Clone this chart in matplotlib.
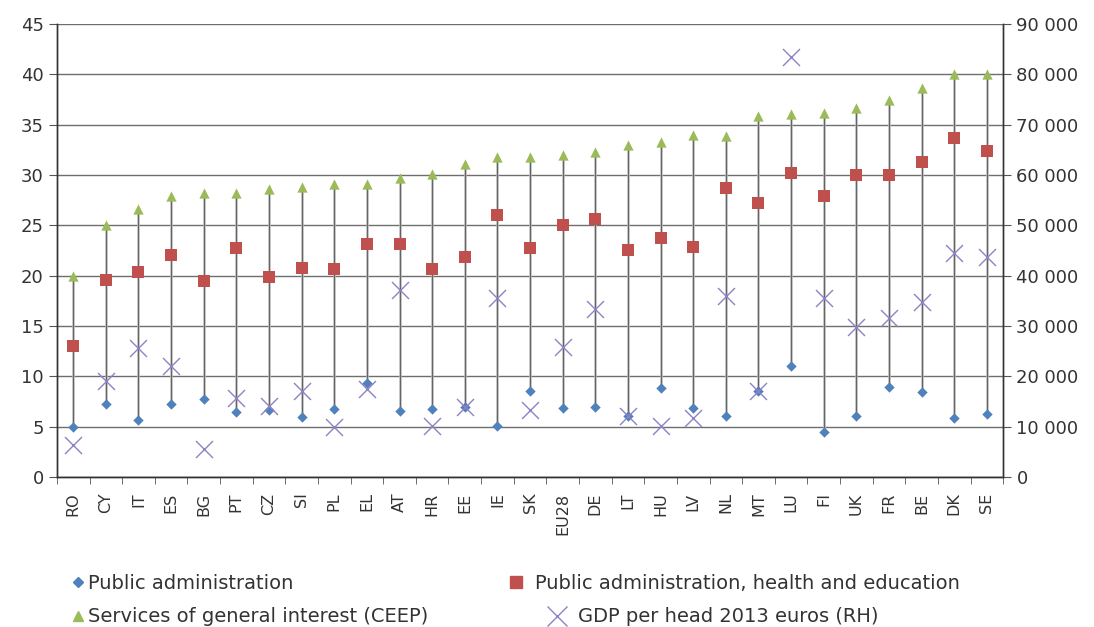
"""Employment shares in public services vs GDP per head, by country."""
import matplotlib

matplotlib.use("Agg")
import matplotlib.pyplot as plt  # noqa: E402
from matplotlib.lines import Line2D  # noqa: E402
from matplotlib.ticker import FuncFormatter, MultipleLocator  # noqa: E402

plt.rcParams["font.family"] = ["DejaVu Sans"]

countries = ["RO", "CY", "IT", "ES", "BG", "PT", "CZ", "SI", "PL", "EL", "AT", "HR",
             "EE", "IE", "SK", "EU28", "DE", "LT", "HU", "LV", "NL", "MT", "LU", "FI",
             "UK", "FR", "BE", "DK", "SE"]
public_admin = [5.0, 7.3, 5.7, 7.3, 7.8, 6.5, 6.7, 6.0, 6.8, 9.3, 6.6, 6.8,
                7.0, 5.1, 8.6, 6.85, 7.0, 6.1, 8.8, 6.85, 6.1, 8.6, 11.0, 4.5,
                6.1, 8.9, 8.5, 5.85, 6.3]
pa_health_edu = [13.0, 19.6, 20.4, 22.1, 19.5, 22.7, 19.9, 20.8, 20.7, 23.1, 23.1, 20.7,
                 21.9, 26.0, 22.7, 25.0, 25.6, 22.5, 23.7, 22.85, 28.7, 27.2, 30.2, 27.9,
                 30.0, 30.0, 31.25, 33.7, 32.4]
ceep = [20.0, 25.0, 26.6, 27.9, 28.2, 28.2, 28.6, 28.8, 29.1, 29.1, 29.7, 30.1,
        31.1, 31.8, 31.8, 32.0, 32.3, 33.0, 33.3, 34.0, 33.9, 35.85, 36.0, 36.1,
        36.6, 37.4, 38.6, 40.0, 40.0]
gdp_per_head = [6400, 19100, 25600, 22150, 5500, 15700, 14200, 17200, 10000, 17500, 37100, 10100,
                13900, 35600, 13400, 25900, 33300, 12200, 10100, 11700, 36000, 17100, 83400, 35600,
                29900, 31500, 34700, 44450, 43800]

BLUE = "#4F81BD"
RED = "#C0504D"
GREEN = "#9BBB59"
PURPLE = "#8E82C4"
TXT = "#333333"


def main() -> None:
    fig = plt.figure(figsize=(10.94, 6.27), dpi=100)
    ax = fig.add_axes([0.052, 0.239, 0.865, 0.723])
    ax2 = ax.twinx()

    x = list(range(len(countries)))
    lows = [min(a, b, c) for a, b, c in zip(public_admin, pa_health_edu, ceep)]
    highs = [max(a, b, c) for a, b, c in zip(public_admin, pa_health_edu, ceep)]
    ax.vlines(x, lows, highs, color="#b4b4b4", lw=1.8, zorder=2)
    ax.vlines(x, lows, highs, color="#555555", lw=0.6, zorder=2)

    ax.scatter(x, public_admin, marker="D", s=28, color=BLUE, zorder=4, linewidths=0)
    ax.scatter(x, pa_health_edu, marker="s", s=75, color=RED, zorder=4, linewidths=0)
    ax.scatter(x, ceep, marker="^", s=55, color=GREEN, zorder=4, linewidths=0)
    ax2.scatter(x, gdp_per_head, marker="x", s=150, color=PURPLE, zorder=5, linewidths=1.0)

    ax.set_xlim(-0.5, len(countries) - 0.5)
    ax.set_ylim(0, 45)
    ax2.set_ylim(0, 90000)
    ax.yaxis.set_major_locator(MultipleLocator(5))
    ax2.yaxis.set_major_locator(MultipleLocator(10000))
    ax2.yaxis.set_major_formatter(FuncFormatter(lambda v, _: f"{int(v):,}".replace(",", " ")))

    ax.grid(axis="y", color="#6e6e6e", lw=1.0)
    ax.set_axisbelow(True)

    ax.set_xticks(x)
    ax.set_xticklabels(countries, rotation=90, fontsize=11.5, color=TXT)
    ax.set_xticks([i - 0.5 for i in range(len(countries) + 1)], minor=True)
    ax.tick_params(axis="x", which="major", length=0, pad=11)
    ax.tick_params(axis="x", which="minor", length=5, color="#555555", direction="out")
    ax.tick_params(axis="y", labelsize=13, labelcolor=TXT, length=6, color="#555555")
    ax2.tick_params(axis="y", labelsize=13, labelcolor=TXT, length=6, color="#555555")

    for a in (ax, ax2):
        a.spines["top"].set_visible(False)
        for side in ("left", "right", "bottom"):
            a.spines[side].set_color("#333333")
            a.spines[side].set_linewidth(1.0)

    # one legend per entry so each sits where the original puts it
    entries = [
        (Line2D([], [], ls="", marker="D", ms=5, color=BLUE),
         "Public administration", 0.0656, 0.070, 0.25),
        (Line2D([], [], ls="", marker="s", ms=9, color=RED),
         "Public administration, health and education", 0.466, 0.070, 0.7),
        (Line2D([], [], ls="", marker="^", ms=7, color=GREEN),
         "Services of general interest (CEEP)", 0.0656, 0.016, 0.25),
        (Line2D([], [], ls="", marker="x", ms=14, mew=1.0, color=PURPLE),
         "GDP per head 2013 euros (RH)", 0.504, 0.016, 0.75),
    ]
    for handle, label, lx, ly, pad in entries:
        fig.legend(handles=[handle], labels=[label], loc="center left",
                   bbox_to_anchor=(lx, ly), frameon=False, fontsize=14,
                   handlelength=0.6, handletextpad=pad, borderpad=0,
                   borderaxespad=0, labelcolor=TXT)

    fig.savefig("out.png", dpi=100)


if __name__ == "__main__":
    main()
